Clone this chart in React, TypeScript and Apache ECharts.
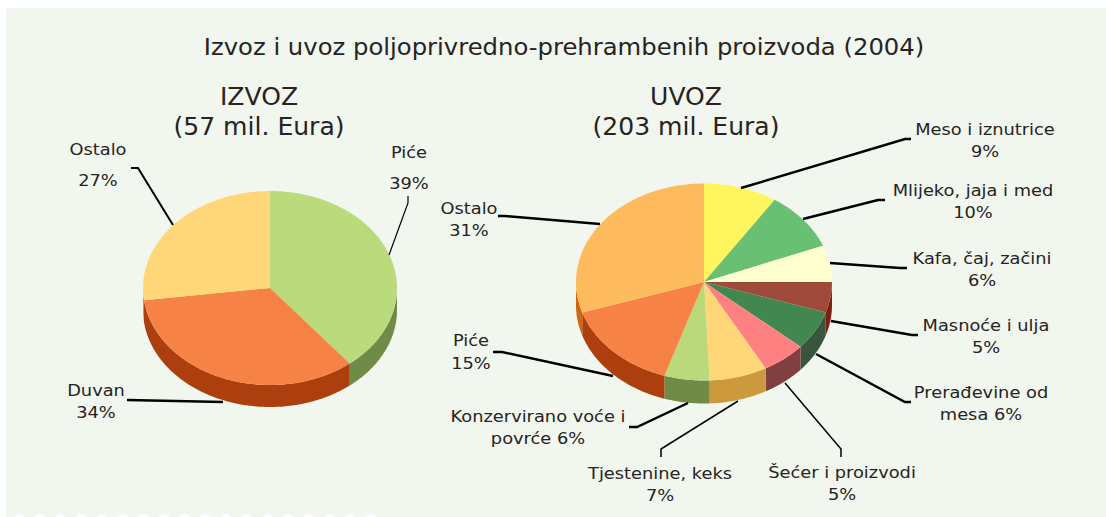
import React, { useEffect, useRef } from "react";
import * as echarts from "echarts";

const FONT = "'DejaVu Sans', Verdana, sans-serif";
const TEXT = "#262322";

const mainTitle = "Izvoz i uvoz poljoprivredno-prehrambenih proizvoda (2004)";
const exportTitle = "IZVOZ\n(57 mil. Eura)";
const importTitle = "UVOZ\n(203 mil. Eura)";

const exportCategories = ["Piće", "Duvan", "Ostalo"];
const exportShares = [39.2, 33.8, 27];
const exportTop = ["#BBDA7B", "#F68245", "#FFD778"];
const exportSide = ["#708B47", "#AC3F0D", "#CC993C"];

const importCategories = [
  "Meso i iznutrice", "Mlijeko, jaja i med", "Kafa, čaj, začini", "Masnoće i ulja",
  "Prerađevine od mesa", "Šećer i proizvodi", "Tjestenine, keks",
  "Konzervirano voće i povrće", "Piće", "Ostalo",
];
const importShares = [9.3, 9.7, 6, 5, 6.4, 5.6, 7.3, 5.7, 15, 30];
const importTop = ["#FFF55F", "#69C073", "#FFFFD0", "#A04A3B", "#41874F", "#FF8080", "#FFD778", "#BAD97B", "#F68245", "#FDBB5E"];
const importSide = ["#CCC44C", "#54995C", "#CCCCA6", "#7F2010", "#39543F", "#804040", "#CC993C", "#708B47", "#AC3F0D", "#D0660F"];

type Pie = { cx: number; cy: number; rx: number; ry: number; depth: number };
const exportPie: Pie = { cx: 270, cy: 288, rx: 127, ry: 97, depth: 22 };
const importPie: Pie = { cx: 704, cy: 282, rx: 128, ry: 98.5, depth: 23 };

// label text, centre x, first line centre y, line height
const labels: [string, number, number, number][] = [
  ["Ostalo\n27%", 98, 149, 31],
  ["Piće\n39%", 409, 152, 31],
  ["Duvan\n34%", 96, 390, 22],
  ["Meso i iznutrice\n9%", 985, 129, 22],
  ["Mlijeko, jaja i med\n10%", 973, 190, 22],
  ["Kafa, čaj, začini\n6%", 982, 258, 22],
  ["Masnoće i ulja\n5%", 986, 325, 22],
  ["Prerađevine od\nmesa 6%", 981, 392, 22],
  ["Šećer i proizvodi\n5%", 842, 472, 22],
  ["Tjestenine, keks\n7%", 660, 473, 22],
  ["Konzervirano voće i\npovrće 6%", 538, 416, 22],
  ["Piće\n15%", 471, 340, 23],
  ["Ostalo\n31%", 469, 208, 22],
];

// leader lines: points, width
const leaders: [number[][], number][] = [
  [[[173, 225], [138, 168], [131, 168]], 2],
  [[[389, 255], [408, 203], [408, 196]], 1.2],
  [[[127, 400], [223, 402]], 2.4],
  [[[741, 188], [905, 139], [911, 139]], 2.4],
  [[[803, 219], [878, 200], [885, 200]], 2.4],
  [[[830, 263], [900, 268], [907, 268]], 2.4],
  [[[831, 321], [912, 335], [918, 335]], 2.4],
  [[[816, 354], [905, 402], [911, 402]], 2.4],
  [[[785, 383], [841, 449], [841, 457]], 1.5],
  [[[738, 401], [661, 449], [661, 457]], 1.5],
  [[[688, 403], [637, 427], [629, 427]], 2.4],
  [[[613, 376], [502, 352], [493, 352]], 2.4],
  [[[600, 224], [505, 216], [498, 216]], 2.4],
];

const toAngle = (share: number, total: number) => (share / total) * 360;
const pt = (p: Pie, deg: number, dz = 0) => {
  const a = (deg * Math.PI) / 180;
  return [p.cx + p.rx * Math.sin(a), p.cy - p.ry * Math.cos(a) + dz];
};
const arc = (p: Pie, from: number, to: number, dz = 0) => {
  const pts: number[][] = [];
  const n = Math.max(2, Math.ceil(to - from));
  for (let i = 0; i <= n; i++) pts.push(pt(p, from + ((to - from) * i) / n, dz));
  return pts;
};
const ranges = (shares: number[], i: number) => {
  const total = shares.reduce((a, b) => a + b, 0);
  const before = shares.slice(0, i).reduce((a, b) => a + b, 0);
  return [toAngle(before, total), toAngle(before + shares[i], total)];
};

const pieSeries = (p: Pie, names: string[], shares: number[], top: string[], side: string[]) => {
  const data = shares.map((v, i) => ({ name: names[i], value: v }));
  return [
    {
      type: "custom",
      coordinateSystem: "none",
      z: 2,
      silent: true,
      data,
      renderItem: (params: any) => {
        const [a0, a1] = ranges(shares, params.dataIndex);
        const from = Math.max(a0, 90);
        const to = Math.min(a1, 270);
        if (to <= from) return { type: "group", children: [] };
        return {
          type: "polygon",
          shape: { points: [...arc(p, from, to), ...arc(p, from, to, p.depth).reverse()] },
          style: { fill: side[params.dataIndex] },
        };
      },
    },
    {
      type: "custom",
      coordinateSystem: "none",
      z: 3,
      silent: true,
      data,
      renderItem: (params: any) => {
        const [a0, a1] = ranges(shares, params.dataIndex);
        return {
          type: "polygon",
          shape: { points: [[p.cx, p.cy], ...arc(p, a0, a1)] },
          style: { fill: top[params.dataIndex] },
        };
      },
    },
  ];
};

export default function App() {
  const ref = useRef<HTMLDivElement>(null);
  useEffect(() => {
    document.body.style.margin = "0";
    const chart = echarts.init(ref.current!, undefined, { renderer: "svg" });
    const scallops = Array.from({ length: 18 }, (_, i) => ({
      type: "circle",
      z: 1,
      silent: true,
      shape: { cx: 19 + 20.7 * i, cy: 520, r: 6 },
      style: { fill: "#FFFFFF" },
    }));
    const heading = (text: string, x: number, y: number, size: number, lh: number, sx: number) => ({
      type: "text",
      z: 5,
      silent: true,
      x,
      y,
      scaleX: sx,
      style: { text, fontFamily: FONT, fontSize: size, fill: TEXT, align: "center", verticalAlign: "top", lineHeight: lh },
    });
    chart.setOption({
      animation: false,
      backgroundColor: "#FFFFFF",
      graphic: [
        { type: "rect", z: 0, silent: true, shape: { x: 6, y: 8, width: 1100, height: 509 }, style: { fill: "#F1F6EE" } },
        ...scallops,
        ...leaders.map(([points, w]) => ({
          type: "polyline",
          z: 5,
          silent: true,
          shape: { points },
          style: { stroke: "#000000", lineWidth: w, fill: "none" },
        })),
        heading(mainTitle, 564, 32, 22.5, 30, 1.081),
        heading(exportTitle, 259, 82, 24, 30, 1.045),
        heading(importTitle, 686, 82, 24, 30, 1.045),
        ...labels.map(([text, x, y, lh]) => heading(text, x, y - lh / 2, 16.5, lh, 1.08)),
      ],
      series: [
        ...pieSeries(exportPie, exportCategories, exportShares, exportTop, exportSide),
        ...pieSeries(importPie, importCategories, importShares, importTop, importSide),
      ],
    });
    return () => chart.dispose();
  }, []);
  return <div ref={ref} style={{ width: 1106, height: 517, overflow: "hidden" }} />;
}
